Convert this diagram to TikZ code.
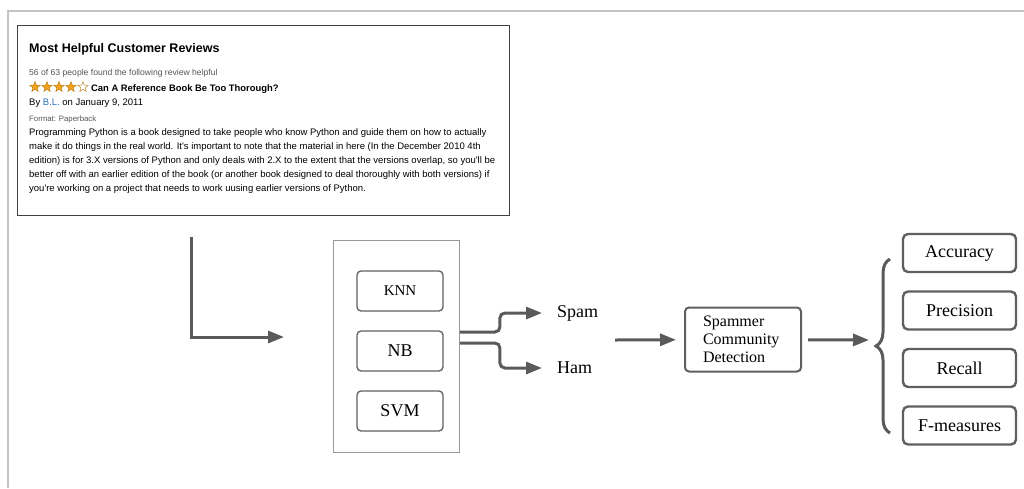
\documentclass[tikz,border=0pt]{standalone}
\usepackage{fontspec}
\setmainfont{Liberation Serif}
\newfontfamily\revfont{Liberation Sans}
\usepackage{tikz}
\usetikzlibrary{arrows.meta,shapes.geometric,decorations.pathreplacing}
\definecolor{arrowgray}{HTML}{5A5A5A}
\definecolor{boxgray}{HTML}{5F5F5F}
\definecolor{framegray}{HTML}{C4C4C4}
\definecolor{starorange}{HTML}{F2A31B}
\definecolor{linkblue}{HTML}{2A6EBB}
\definecolor{txtgray}{HTML}{555555}

\begin{document}
\begin{tikzpicture}[x=1pt,y=-1pt,>={Triangle[length=16pt,width=12pt]},node distance=57.5pt,
    algo/.style={draw=boxgray,line width=1.3pt,rounded corners=4pt,minimum width=86pt,minimum height=40pt,inner sep=0pt},
    metric/.style={draw=boxgray,line width=2.4pt,rounded corners=5pt,minimum width=113pt,minimum height=38pt,font=\fontsize{18}{20}\selectfont},
    flow/.style={->,draw=arrowgray,line width=3pt},
    rstar/.style={star,star points=5,star point ratio=2.4,minimum size=11pt,inner sep=0pt,draw=starorange!75!black,line width=0.4pt},
    rtext/.style={anchor=base west,inner sep=0pt}]
    \useasboundingbox (0,0) rectangle (1024,488);
    \draw[framegray,line width=2pt] (8,488) -- (8,11) -- (1024,11);
    \node (0) [draw=black!75,line width=0.8pt,minimum width=492pt,minimum height=190pt,anchor=north west,inner sep=0pt] at (17,25) {};
    \node (r1) [rtext,font=\revfont\bfseries\fontsize{12.5}{14}\selectfont] at (29,52) {Most Helpful Customer Reviews};
    \node (r2) [rtext,text=txtgray,font=\revfont\fontsize{8.6}{10}\selectfont] at (29,75) {56 of 63 people found the following review helpful};
    \foreach \i in {0,...,3}
        \node (s\i) [rstar,fill=starorange] at (35+12*\i,87) {};
    \node (s4) [rstar] at (83,87) {};
    \node (r3) [rtext,font=\revfont\bfseries\fontsize{9.4}{11}\selectfont] at (91,91) {Can A Reference Book Be Too Thorough?};
    \node (r4) [rtext,font=\revfont\fontsize{9.5}{11}\selectfont] at (29,105) {By \textcolor{linkblue}{B.L.} on January 9, 2011};
    \node (r5) [rtext,text=txtgray,font=\revfont\fontsize{7.8}{9}\selectfont] at (29,121) {Format: Paperback};
    \node (r6) [rtext,align=left,font=\revfont\fontsize{9.5}{14}\selectfont] at (29,191) {Programming Python is a book designed to take people who know Python and guide them on how to actually\\
        make it do things in the real world. It's important to note that the material in here (In the December 2010 4th\\
        edition) is for 3.X versions of Python and only deals with 2.X to the extent that the versions overlap, so you'll be\\
        better off with an earlier edition of the book (or another book designed to deal thoroughly with both versions) if\\
        you're working on a project that needs to work uusing earlier versions of Python.};

    \node (1) [draw=black!40,line width=0.8pt,minimum width=126pt,minimum height=212pt] at (396.5,346.5) {};
    \node (2) [algo,font=\fontsize{15}{17}\selectfont] at (400,291) {KNN};
    \node (3) [algo,below of=2,node distance=60pt,font=\fontsize{18}{20}\selectfont] {NB};
    \node (4) [algo,below of=3,node distance=60pt,font=\fontsize{18}{20}\selectfont] {SVM};
    \node (5) [anchor=west,inner sep=0pt,font=\fontsize{18}{20}\selectfont] at (557,313) {Spam};
    \node (6) [anchor=west,inner sep=0pt,font=\fontsize{18}{20}\selectfont] at (557,368) {Ham};
    \node (7) [draw=boxgray,line width=2pt,rounded corners=4pt,text width=80pt,inner xsep=18pt,minimum height=64pt,align=left,font=\fontsize{16}{18}\selectfont] at (743,339.5) {Spammer\\Community\\Detection};
    \node (8) [metric] at (959.5,253) {Accuracy};
    \node (9) [metric,below of=8] {Precision};
    \node (10) [metric,below of=9] {Recall};
    \node (11) [metric,below of=10] {F-measures};
    \coordinate (a) at (191,237);
    \coordinate (b) at (284,337);
    \coordinate (c) at (615,340);
    \coordinate (d) at (869,340);
    \coordinate (e) at (890,433);
    \coordinate (f) at (890,259);
    \draw[flow] (a) |- (b);
    \draw[flow,rounded corners=5pt] ([yshift=14.5pt]1.east) -- ++(40,0) |- ([xshift=-15pt]5.west);
    \draw[flow,rounded corners=5pt] ([yshift=3.5pt]1.east) -- ++(40,0) |- ([xshift=-15pt]6.west);
    \path
    (c) edge[flow,shorten >=8pt] (7)
    (7) edge[flow,shorten <=6pt] (d)
    ;
    \draw[arrowgray,line width=3pt,decorate,decoration={brace,amplitude=14pt}] (e) -- (f);
\end{tikzpicture}
\end{document}
